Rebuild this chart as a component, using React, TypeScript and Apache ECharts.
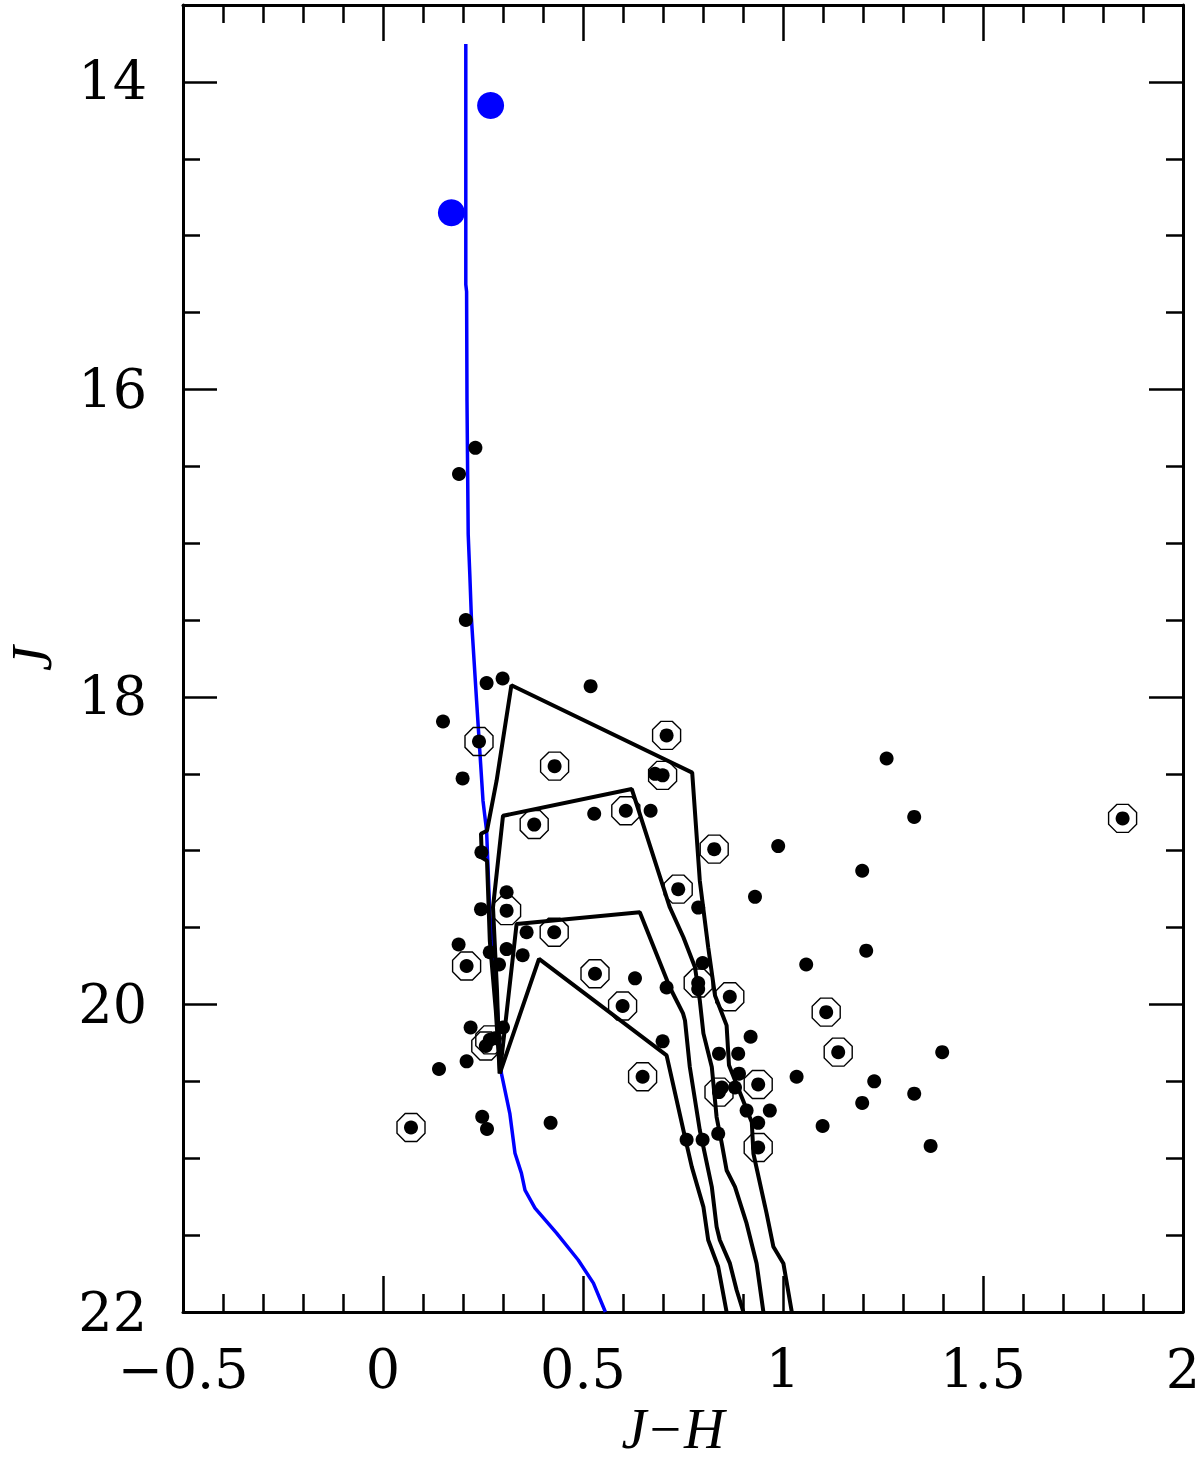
import React, { useEffect, useRef } from "react";
import * as echarts from "echarts";

// Axis ticks
const xMinorTicks = [-0.4, -0.3, -0.2, -0.1, 0.1, 0.2, 0.3, 0.4, 0.6, 0.7, 0.8, 0.9, 1.1, 1.2, 1.3, 1.4, 1.6, 1.7, 1.8, 1.9];
const yMajorTicks = [14, 16, 18, 20, 22];
const yMinorTicks = [14.5, 15, 15.5, 16.5, 17, 17.5, 18.5, 19, 19.5, 20.5, 21, 21.5];

// Bright (blue) stars: [J-H, J]
const brightStars = [
  [0.269, 14.154],
  [0.171, 14.851],
];

// Blue isochrone
const blueIsochrone = [
  [0.207, 13.753], [0.207, 15.318], [0.209, 15.364], [0.21, 16.078], [0.213, 16.942],
  [0.217, 17.201], [0.221, 17.487], [0.234, 18.026], [0.242, 18.351], [0.25, 18.675],
  [0.259, 18.87], [0.267, 19.409], [0.284, 19.955], [0.296, 20.448], [0.317, 20.708],
  [0.33, 20.968], [0.346, 21.097], [0.355, 21.208], [0.38, 21.325], [0.434, 21.487],
  [0.488, 21.662], [0.526, 21.812], [0.556, 22.0],
];

// Black tracks
const track1 = [
  [1.022, 22.0], [1.001, 21.684], [0.976, 21.576], [0.959, 21.359], [0.926, 20.969],
  [0.922, 20.766], [0.865, 20.396], [0.859, 20.136], [0.83, 19.942], [0.813, 19.628],
  [0.792, 19.195], [0.773, 18.492], [0.321, 17.924], [0.284, 18.545], [0.26, 18.87],
  [0.245, 18.89], [0.247, 19.045], [0.26, 19.065], [0.267, 19.584], [0.282, 20.039],
  [0.292, 20.448],
];
const track2 = [
  [0.951, 22.0], [0.934, 21.684], [0.909, 21.424], [0.88, 21.186], [0.859, 21.078],
  [0.847, 20.905], [0.834, 20.732], [0.822, 20.407], [0.801, 20.188], [0.792, 19.974],
  [0.78, 19.758], [0.751, 19.563], [0.717, 19.368], [0.622, 18.599], [0.3, 18.773],
  [0.275, 19.368], [0.285, 19.909], [0.292, 20.448],
];
const track3 = [
  [0.901, 22.0], [0.884, 21.857], [0.867, 21.682], [0.842, 21.532], [0.834, 21.446],
  [0.822, 21.186], [0.801, 20.927], [0.792, 20.818], [0.767, 20.407], [0.755, 20.104],
  [0.75, 20.058], [0.717, 19.888], [0.642, 19.401], [0.334, 19.476], [0.292, 20.448],
];
const track4 = [
  [0.859, 22.0], [0.838, 21.706], [0.813, 21.532], [0.801, 21.316], [0.772, 21.056],
  [0.751, 20.818], [0.709, 20.331], [0.39, 19.703], [0.292, 20.448],
];

// Field stars (filled dots)
const fieldStars = [
  [0.231, 16.38], [0.19, 16.55], [0.207, 17.5], [0.259, 17.91], [0.299, 17.88],
  [0.519, 17.93], [0.15, 18.16], [0.199, 18.53], [0.68, 18.5], [0.528, 18.76],
  [0.669, 18.74], [0.988, 18.97], [0.246, 19.01], [0.93, 19.3], [0.309, 19.27],
  [0.245, 19.38], [0.788, 19.37], [0.359, 19.53], [0.189, 19.61], [0.267, 19.66],
  [0.309, 19.64], [0.349, 19.68], [0.29, 19.74], [0.63, 19.83], [0.799, 19.73],
  [0.788, 19.9], [0.709, 19.89], [0.919, 20.21], [0.219, 20.15], [0.3, 20.15],
  [0.28, 20.22], [0.699, 20.24], [0.84, 20.32], [0.888, 20.32], [0.209, 20.37],
  [0.14, 20.42], [0.89, 20.45], [0.88, 20.54], [0.847, 20.54], [1.034, 20.47],
  [0.909, 20.69], [0.967, 20.69], [0.938, 20.77], [0.248, 20.73], [0.26, 20.81],
  [0.419, 20.77], [0.759, 20.88], [0.799, 20.88], [0.838, 20.84], [1.259, 18.4],
  [1.328, 18.78], [1.198, 19.13], [1.208, 19.65], [1.058, 19.74], [1.398, 20.31],
  [1.228, 20.5], [1.328, 20.58], [1.198, 20.64], [1.099, 20.79], [1.369, 20.92],
];

// Ringed stars (dot inside an open ring)
const ringedStars = [
  [0.24, 18.29], [0.429, 18.45], [0.709, 18.25], [0.699, 18.51], [0.378, 18.83],
  [0.607, 18.74], [0.828, 18.99], [0.738, 19.25], [0.309, 19.39], [0.428, 19.53],
  [0.209, 19.75], [0.53, 19.8], [0.788, 19.86], [0.867, 19.95], [0.599, 20.01],
  [0.257, 20.27], [0.267, 20.23], [0.649, 20.47], [0.84, 20.57], [0.938, 20.52],
  [0.07, 20.8], [0.938, 20.93], [1.849, 18.79], [1.108, 20.05], [1.138, 20.31],
];

const OCTAGON =
  "path://M0.924,0.383L0.383,0.924L-0.383,0.924L-0.924,0.383L-0.924,-0.383L-0.383,-0.924L0.383,-0.924L0.924,-0.383Z";

const LABEL_FONT = "DejaVu Serif";
const TITLE_FONT = "Liberation Serif";
const BLACK = "#000000";
const BLUE = "#0000ff";

export default function App() {
  const ref = useRef<HTMLDivElement>(null);

  useEffect(() => {
    document.body.style.margin = "0";
    if (!ref.current) return;
    const chart = echarts.init(ref.current, undefined, { renderer: "svg" });

    const axisLine = { show: true, onZero: false, lineStyle: { color: BLACK, width: 3 } };
    const noLine = { show: false, onZero: false };
    const tickStyle = { color: BLACK, width: 2.5 };
    const labelStyle = { fontFamily: LABEL_FONT, fontSize: 54, color: BLACK };
    const titleStyle = { fontFamily: TITLE_FONT, fontStyle: "italic", fontSize: 56, lineHeight: 50, color: BLACK };

    const xCommon = { type: "value", min: -0.5, max: 2, splitLine: { show: false } };
    const yCommon = { type: "value", min: 13.5, max: 22, inverse: true, splitLine: { show: false } };

    const trackSeries = [track1, track2, track3, track4].map((t, i) => ({
      type: "line",
      name: "track" + (i + 1),
      data: t,
      showSymbol: false,
      symbol: "none",
      lineStyle: { color: BLACK, width: 4, opacity: 1 },
      z: 3,
    }));

    chart.setOption({
      animation: false,
      backgroundColor: "#ffffff",
      grid: { left: 183, right: 17, top: 5, bottom: 148, containLabel: false, outerBoundsMode: "none" },
      xAxis: [
        {
          ...xCommon,
          position: "bottom",
          interval: 0.5,
          name: "J\u2212H",
          nameLocation: "middle",
          nameGap: 91,
          nameTextStyle: { ...titleStyle, padding: [0, 20, 0, 0] },
          axisLine,
          axisTick: { show: true, inside: true, length: 36, lineStyle: tickStyle },
          axisLabel: {
            show: true,
            margin: 30,
            ...labelStyle,
            formatter: (v: number) => String(v).replace("-", "\u2212"),
          },
        },
        {
          ...xCommon,
          position: "bottom",
          axisLine: noLine,
          axisTick: { show: true, inside: true, length: 18, customValues: xMinorTicks, lineStyle: tickStyle },
          axisLabel: { show: false },
        },
        {
          ...xCommon,
          position: "top",
          interval: 0.5,
          axisLine,
          axisTick: { show: true, inside: true, length: 36, lineStyle: tickStyle },
          axisLabel: { show: false },
        },
        {
          ...xCommon,
          position: "top",
          axisLine: noLine,
          axisTick: { show: true, inside: true, length: 18, customValues: xMinorTicks, lineStyle: tickStyle },
          axisLabel: { show: false },
        },
      ],
      yAxis: [
        {
          ...yCommon,
          position: "left",
          name: "J",
          nameLocation: "middle",
          nameRotate: 90,
          nameGap: 126,
          nameTextStyle: titleStyle,
          axisLine,
          axisTick: { show: true, inside: true, length: 34, customValues: yMajorTicks, lineStyle: tickStyle },
          axisLabel: { show: true, margin: 36, customValues: yMajorTicks, ...labelStyle },
        },
        {
          ...yCommon,
          position: "left",
          axisLine: noLine,
          axisTick: { show: true, inside: true, length: 17, customValues: yMinorTicks, lineStyle: tickStyle },
          axisLabel: { show: false },
        },
        {
          ...yCommon,
          position: "right",
          axisLine,
          axisTick: { show: true, inside: true, length: 34, customValues: yMajorTicks, lineStyle: tickStyle },
          axisLabel: { show: false },
        },
        {
          ...yCommon,
          position: "right",
          axisLine: noLine,
          axisTick: { show: true, inside: true, length: 17, customValues: yMinorTicks, lineStyle: tickStyle },
          axisLabel: { show: false },
        },
      ],
      series: [
        {
          type: "line",
          name: "isochrone",
          data: blueIsochrone,
          showSymbol: false,
          symbol: "none",
          lineStyle: { color: BLUE, width: 3.5, opacity: 1 },
          z: 2,
        },
        ...trackSeries,
        {
          type: "scatter",
          name: "field",
          data: fieldStars,
          symbol: "circle",
          symbolSize: 14,
          itemStyle: { color: BLACK, opacity: 1 },
          z: 4,
        },
        {
          type: "scatter",
          name: "rings",
          data: ringedStars,
          symbol: OCTAGON,
          symbolSize: 28,
          itemStyle: { color: "rgba(0,0,0,0)", borderColor: BLACK, borderWidth: 1.4, opacity: 1 },
          z: 4,
        },
        {
          type: "scatter",
          name: "ringDots",
          data: ringedStars,
          symbol: "circle",
          symbolSize: 14,
          itemStyle: { color: BLACK, opacity: 1 },
          z: 5,
        },
        {
          type: "scatter",
          name: "bright",
          data: brightStars,
          symbol: "circle",
          symbolSize: 27,
          itemStyle: { color: BLUE, opacity: 1 },
          z: 5,
        },
      ],
    });

    return () => chart.dispose();
  }, []);

  return <div ref={ref} style={{ width: 1200, height: 1460 }} />;
}
